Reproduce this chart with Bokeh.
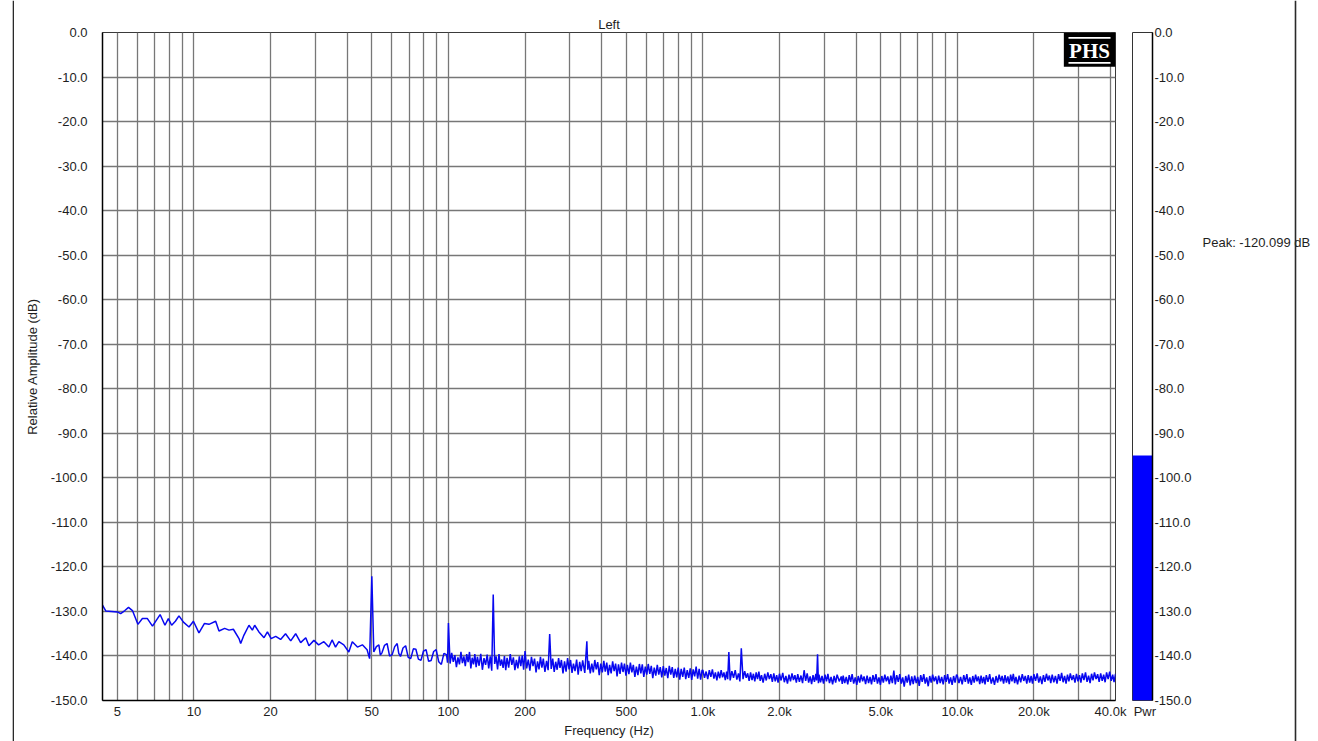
from bokeh.plotting import figure
from bokeh.layouts import row
from bokeh.models import FixedTicker, Range1d, Label, BoxAnnotation
from bokeh.embed import file_html
from bokeh.resources import INLINE

# ---------------- data ----------------
TITLE = "Left"
X_LABEL = "Frequency (Hz)"
Y_LABEL = "Relative Amplitude (dB)"
X_RANGE = (4.37, 41850.0)
Y_RANGE = (-150.0, 0.0)

# 4.4 Hz - 100 Hz
FREQ_A = [4.37, 4.50, 4.75, 5.00, 5.15, 5.35, 5.53, 5.73, 6.02, 6.27,
          6.56, 6.87, 7.36, 7.69, 7.93, 8.17, 8.45, 8.73, 9.09, 9.56,
          9.95, 10.46, 11.0, 11.45, 12.17, 12.54, 13.2, 13.73, 14.28, 15.03,
          15.26, 15.72, 16.45, 16.96, 17.32, 18.0, 18.85, 19.44, 20.1, 20.95,
          21.9, 22.9, 24.0, 25.1, 26.26, 27.5, 28.3, 29.6, 30.9, 32.4,
          33.9, 34.9, 36.0, 37.1, 38.8, 40.6, 41.9, 43.9, 45.9, 47.9,
          49.0, 50.0, 50.9, 52.1, 53.3, 54.0, 54.8, 56.1, 57.4, 58.7,
          60.1, 61.5, 62.9, 63.8, 64.8, 66.3, 67.9, 69.5, 71.1, 72.8,
          74.5, 76.2, 78.0, 79.8, 81.7, 83.6, 85.5, 87.5, 89.5, 91.6,
          93.8, 96.0, 98.3, 99.2]
DB_A = [-128.6, -129.9, -130.0, -130.1, -130.5, -129.8, -129.1, -129.8, -132.9, -131.6,
        -131.6, -133.3, -130.7, -133.1, -131.6, -133.1, -132.2, -131.0, -132.4, -133.5,
        -132.2, -134.8, -132.7, -132.9, -132.2, -134.4, -133.8, -134.2, -134.0, -136.1,
        -137.2, -135.3, -133.1, -134.2, -133.1, -134.6, -135.9, -134.6, -136.1, -135.6,
        -136.3, -135.0, -136.6, -135.0, -137.0, -135.9, -137.7, -136.5, -137.5, -136.8,
        -138.0, -136.4, -138.0, -136.8, -137.5, -139.1, -136.8, -138.0, -137.5, -138.6,
        -140.6, -122.1, -139.1, -137.9, -137.5, -139.8, -139.3, -137.6, -137.2, -140.0,
        -139.7, -137.9, -137.2, -139.4, -140.1, -138.2, -137.7, -140.3, -140.6, -138.4,
        -138.5, -140.7, -141.0, -138.9, -138.6, -141.2, -141.0, -139.0, -138.6, -141.3,
        -141.9, -139.4, -139.7, -141.5]

# 100 Hz - 1 kHz
FREQ_B = [100, 101.5, 103, 104.5, 106, 107.5, 109, 110.5, 112, 113.5,
          115, 116.5, 118, 119.5, 121, 122.5, 124, 125.5, 127, 128.5,
          130, 132, 134, 136, 138, 140, 142, 144, 146, 148,
          150, 152, 154, 156, 158, 160, 162, 164, 166, 168,
          170, 172.5, 175, 177.5, 180, 182.5, 185, 187.5, 190, 192.5,
          195, 197.5, 200, 203, 206, 209, 212, 215, 218, 221,
          224, 227, 230, 233, 236, 239.5, 243, 246.5, 250, 253.5,
          257, 260.5, 264, 267.5, 271, 274.5, 278, 282, 286, 290,
          294, 298, 302, 306, 310, 314.5, 319, 323.5, 328, 332.5,
          337, 343.5, 350, 353, 356, 361, 366, 371, 376, 381,
          386, 391.5, 397, 402.5, 408, 413.5, 419, 424.5, 430, 436,
          442, 448, 454, 460, 466, 472.5, 479, 485.5, 492, 498.5,
          505, 512, 519, 526, 533, 540.5, 548, 555.5, 563, 570.5,
          578, 586, 594, 602, 610, 618.5, 627, 635.5, 644, 653,
          662, 671, 680, 689.5, 699, 708.5, 718, 728, 738, 748,
          758, 768.5, 779, 789.5, 800, 811, 822, 833.5, 845, 856.5,
          868, 880, 892, 904, 916, 928.5, 941, 954, 967, 980,
          993]
DB_B = [-132.6, -141.7, -139.3, -141.3, -139.8, -142.5, -140.3, -141.9, -139.1, -141.6,
        -140.1, -142.3, -139.6, -141.4, -139.1, -142.8, -140.4, -141.9, -139.6, -142.5,
        -140.2, -142.2, -139.5, -143.1, -140.5, -142.0, -139.7, -142.8, -140.1, -143.3,
        -126.2, -141.8, -140.1, -143.0, -139.6, -142.2, -140.8, -142.7, -140.0, -143.2,
        -140.4, -142.6, -139.6, -142.0, -140.3, -143.2, -140.9, -142.8, -140.1, -142.3,
        -139.9, -143.1, -138.9, -142.8, -140.8, -143.3, -140.2, -142.3, -140.6, -143.7,
        -141.2, -143.0, -140.2, -142.6, -140.6, -143.6, -141.1, -143.2, -135.1, -142.9,
        -140.6, -143.6, -141.3, -143.1, -140.5, -142.7, -140.9, -143.9, -141.2, -143.5,
        -140.5, -143.0, -140.9, -143.8, -141.7, -143.4, -140.8, -144.2, -141.3, -143.4,
        -141.0, -143.8, -136.7, -143.1, -141.1, -143.9, -141.7, -143.7, -140.9, -143.0,
        -141.4, -144.3, -141.7, -143.7, -141.1, -143.5, -141.5, -144.3, -142.0, -143.9,
        -141.2, -143.4, -141.7, -144.6, -141.9, -144.0, -141.5, -143.6, -141.7, -144.4,
        -142.0, -144.1, -141.5, -143.7, -142.0, -144.7, -142.4, -144.3, -141.8, -143.9,
        -141.9, -144.7, -142.4, -144.2, -141.8, -144.0, -142.2, -145.0, -142.6, -144.4,
        -142.0, -144.2, -142.5, -144.8, -142.3, -144.4, -142.7, -145.0, -142.2, -144.2,
        -142.5, -144.9, -142.9, -144.8, -142.6, -145.3, -142.9, -144.7, -142.6, -145.2,
        -143.2, -144.9, -142.8, -145.4, -143.0, -144.6, -142.4, -145.1, -142.9, -145.3,
        -143.2]

# 1 kHz - 10 kHz
FREQ_C = [1000, 1015, 1030, 1045, 1060, 1075, 1090, 1105, 1120, 1135,
          1150, 1165, 1180, 1195, 1210, 1225, 1240, 1252, 1265, 1280,
          1300, 1320, 1340, 1360, 1380, 1398, 1416, 1438, 1460, 1480,
          1500, 1520, 1540, 1560, 1580, 1600, 1620, 1640, 1660, 1680,
          1700, 1725, 1750, 1775, 1800, 1825, 1850, 1875, 1900, 1925,
          1950, 1975, 2000, 2030, 2060, 2090, 2120, 2150, 2180, 2210,
          2240, 2270, 2300, 2330, 2360, 2395, 2430, 2465, 2500, 2535,
          2570, 2605, 2640, 2675, 2710, 2745, 2780, 2800, 2823, 2845,
          2860, 2900, 2940, 2980, 3020, 3060, 3100, 3145, 3190, 3235,
          3280, 3325, 3370, 3435, 3500, 3530, 3560, 3610, 3660, 3710,
          3760, 3810, 3860, 3915, 3970, 4025, 4080, 4135, 4190, 4245,
          4300, 4360, 4420, 4480, 4540, 4600, 4660, 4725, 4790, 4855,
          4920, 4985, 5050, 5120, 5190, 5260, 5330, 5405, 5480, 5555,
          5630, 5705, 5780, 5860, 5940, 6020, 6100, 6185, 6270, 6355,
          6440, 6530, 6620, 6710, 6800, 6895, 6990, 7085, 7180, 7280,
          7380, 7480, 7580, 7685, 7790, 7895, 8000, 8110, 8220, 8335,
          8450, 8565, 8680, 8800, 8920, 9040, 9160, 9285, 9410, 9540,
          9670, 9800, 9930]
DB_C = [-143.2, -144.9, -143.5, -145.2, -143.2, -144.7, -143.0, -145.1, -143.7, -145.5,
        -143.5, -145.0, -143.2, -144.8, -143.7, -145.4, -143.5, -145.2, -139.1, -145.5,
        -143.4, -144.9, -143.2, -145.3, -143.9, -145.7, -138.3, -145.2, -143.4, -144.9,
        -143.9, -145.6, -143.7, -145.4, -144.0, -145.7, -143.7, -145.2, -143.5, -145.6,
        -144.3, -146.0, -144.0, -145.5, -143.7, -145.2, -144.1, -145.8, -143.9, -145.7,
        -144.3, -146.0, -144.0, -145.5, -143.8, -145.9, -144.5, -146.2, -144.2, -145.7,
        -143.9, -145.4, -144.3, -146.0, -144.1, -145.8, -144.4, -146.1, -143.2, -145.6,
        -143.9, -146.0, -144.6, -146.3, -144.3, -145.8, -144.0, -145.5, -139.6, -146.1,
        -144.2, -145.9, -144.5, -146.2, -144.2, -145.7, -144.0, -146.1, -144.7, -146.4,
        -144.5, -146.0, -144.2, -145.7, -144.6, -146.3, -144.4, -146.1, -144.7, -146.4,
        -144.3, -145.8, -144.1, -146.2, -144.8, -146.5, -144.5, -146.0, -144.2, -145.7,
        -144.6, -146.3, -144.4, -146.1, -144.7, -146.4, -144.3, -145.8, -144.1, -146.2,
        -144.8, -146.5, -144.5, -146.0, -144.2, -145.7, -144.6, -146.3, -144.4, -146.1,
        -143.3, -146.4, -144.3, -145.8, -144.1, -146.2, -144.8, -146.9, -144.5, -146.0,
        -144.2, -146.6, -144.6, -146.3, -144.4, -146.1, -144.7, -146.7, -144.3, -145.8,
        -144.1, -146.2, -144.8, -146.8, -144.5, -146.0, -144.2, -145.7, -144.6, -146.3,
        -144.4, -146.1, -144.7, -146.4, -144.3, -145.8, -144.1, -146.2, -144.8, -146.5,
        -144.5, -146.0, -144.2]

# 10 kHz - 42 kHz
FREQ_D = [10000, 10150, 10300, 10450, 10600, 10750, 10900, 11050, 11200, 11350,
          11500, 11650, 11800, 11950, 12100, 12250, 12400, 12550, 12700, 12850,
          13000, 13200, 13400, 13600, 13800, 14000, 14200, 14400, 14600, 14800,
          15000, 15200, 15400, 15600, 15800, 16000, 16200, 16400, 16600, 16800,
          17000, 17250, 17500, 17750, 18000, 18250, 18500, 18750, 19000, 19250,
          19500, 19750, 20000, 20300, 20600, 20900, 21200, 21500, 21800, 22100,
          22400, 22700, 23000, 23300, 23600, 23950, 24300, 24650, 25000, 25350,
          25700, 26050, 26400, 26750, 27100, 27450, 27800, 28200, 28600, 29000,
          29400, 29800, 30200, 30600, 31000, 31450, 31900, 32350, 32800, 33250,
          33700, 34150, 34600, 35100, 35600, 36100, 36600, 37100, 37600, 38100,
          38600, 39150, 39700, 40250, 40800, 41300, 41850]
DB_D = [-144.4, -146.1, -144.7, -146.4, -144.3, -145.8, -144.1, -146.2, -144.8, -146.5,
        -144.5, -146.0, -144.2, -145.7, -144.6, -146.3, -144.4, -146.1, -144.7, -146.4,
        -144.3, -145.8, -144.1, -146.2, -144.8, -146.5, -144.5, -146.0, -144.2, -145.7,
        -144.5, -146.2, -144.3, -146.0, -144.6, -146.3, -144.2, -145.7, -144.0, -146.1,
        -144.7, -146.4, -144.4, -145.9, -144.1, -145.6, -144.5, -146.2, -144.3, -146.0,
        -144.5, -146.2, -144.1, -145.6, -143.9, -146.0, -144.6, -146.3, -144.3, -145.8,
        -144.0, -145.5, -144.4, -146.1, -144.2, -145.9, -144.5, -146.2, -144.1, -145.6,
        -143.8, -145.9, -144.5, -146.2, -144.2, -145.7, -143.9, -145.4, -144.3, -146.0,
        -144.0, -145.7, -144.3, -146.0, -143.9, -145.4, -143.7, -145.8, -144.4, -146.1,
        -144.0, -145.5, -143.7, -145.2, -144.1, -145.8, -143.9, -145.6, -144.2, -145.9,
        -143.7, -145.2, -143.5, -145.6, -144.2, -145.9, -144.0]

X_TICKS = [5, 10, 20, 50, 100, 200, 500, 1000, 2000, 5000, 10000, 20000, 40000]
X_TICK_LABELS = ["5", "10", "20", "50", "100", "200", "500",
                 "1.0k", "2.0k", "5.0k", "10.0k", "20.0k", "40.0k"]
Y_TICKS = [0, -10, -20, -30, -40, -50, -60, -70, -80, -90,
           -100, -110, -120, -130, -140, -150]
Y_TICK_LABELS = ["0.0", "-10.0", "-20.0", "-30.0", "-40.0", "-50.0", "-60.0", "-70.0",
                 "-80.0", "-90.0", "-100.0", "-110.0", "-120.0", "-130.0", "-140.0", "-150.0"]

METER_LABEL = "Pwr"
METER_LEVEL_DB = -95.0
PEAK_TEXT = "Peak: -120.099 dB"
LOGO_TEXT = "PHS"

# ---------------------------------------------------------------
assert len(FREQ_A) == len(DB_A) and len(FREQ_B) == len(DB_B)
assert len(FREQ_C) == len(DB_C) and len(FREQ_D) == len(DB_D)
freq = FREQ_A + FREQ_B + FREQ_C + FREQ_D
level = DB_A + DB_B + DB_C + DB_D

FONT = "Liberation Sans"
TXT = "#1e1e1e"
GRID = "#777777"
BLUE = "#0808f0"
FRAME_LINE = "#2a2a2a"

grid_x = [m * 10 ** e for e in range(0, 5) for m in range(1, 10)
          if X_RANGE[0] <= m * 10 ** e <= X_RANGE[1]]

H = 741


def blank(width, height):
    f = figure(width=width, height=height, x_range=Range1d(0, width),
               y_range=Range1d(0, height), x_axis_location=None,
               y_axis_location=None, output_backend="svg",
               toolbar_location=None, min_border=0)
    f.frame_align = False
    f.grid.visible = False
    f.outline_line_color = None
    f.background_fill_color = "white"
    f.border_fill_color = "white"
    return f


# left strip holding the outer frame line
p0 = blank(14, H)
p0.add_layout(BoxAnnotation(left=12.2, right=13.8, top=H, bottom=0,
                            fill_color=FRAME_LINE, fill_alpha=1, line_color=None))

# ---------------- main spectrum ----------------
p = figure(width=1118, height=H, x_axis_type="log",
           x_range=Range1d(*X_RANGE), y_range=Range1d(*Y_RANGE),
           output_backend="svg", toolbar_location=None, title=TITLE,
           min_border_left=88, min_border_right=17, min_border_top=32,
           min_border_bottom=41)
p.background_fill_color = "white"
p.border_fill_color = "white"
p.outline_line_color = "#3a3a3a"
p.outline_line_width = 1

p.title.align = "center"
p.title.text_font = FONT
p.title.text_font_size = "13px"
p.title.text_font_style = "normal"
p.title.text_color = TXT
p.title.standoff = 2

p.xgrid.ticker = FixedTicker(ticks=grid_x)
p.ygrid.ticker = FixedTicker(ticks=Y_TICKS)
for g in (p.xgrid, p.ygrid):
    g.grid_line_color = GRID
    g.grid_line_width = 1.3

xa = p.xaxis[0]
xa.ticker = FixedTicker(ticks=X_TICKS)
xa.major_label_overrides = dict(zip(X_TICKS, X_TICK_LABELS))
ya = p.yaxis[0]
ya.ticker = FixedTicker(ticks=Y_TICKS)
ya.major_label_overrides = dict(zip(Y_TICKS, Y_TICK_LABELS))
xa.axis_label = X_LABEL
ya.axis_label = Y_LABEL
for a in (xa, ya):
    a.major_tick_in = 0
    a.major_tick_out = 0
    a.minor_tick_in = 0
    a.minor_tick_out = 0
    a.axis_line_color = "black"
    a.axis_line_width = 1.5
    a.major_label_text_font = FONT
    a.major_label_text_font_size = "13px"
    a.major_label_text_color = TXT
    a.axis_label_text_font = FONT
    a.axis_label_text_font_size = "13px"
    a.axis_label_text_font_style = "normal"
    a.axis_label_text_color = TXT
xa.major_label_standoff = 3
xa.axis_label_standoff = 1
ya.major_label_standoff = 15
ya.axis_label_standoff = 8

p.line(freq, level, line_color=BLUE, line_width=1.5)

# PHS logo (top right corner of the frame)
XM = X_RANGE[1]
p.add_layout(BoxAnnotation(left=XM / 1.596, right=XM, top=0, bottom=-7.7,
                           fill_color="black", fill_alpha=1, line_color=None))
for top, bottom in ((-1.0, -1.4), (-6.6, -7.0)):
    p.add_layout(BoxAnnotation(left=XM / 1.53, right=XM / 1.046, top=top, bottom=bottom,
                               fill_color="white", fill_alpha=1, line_color=None))
p.add_layout(Label(x=XM / 1.265, y=-4.1, text=LOGO_TEXT, text_align="center",
                   text_baseline="middle", text_color="white",
                   text_font="Liberation Serif", text_font_style="bold",
                   text_font_size="21px"))

# ---------------- power meter ----------------
m = figure(width=63, height=H, x_range=Range1d(-0.5, 0.5),
           y_range=Range1d(*Y_RANGE), y_axis_location="right",
           output_backend="svg", toolbar_location=None,
           min_border_left=0, min_border_right=43, min_border_top=32,
           min_border_bottom=41)
m.background_fill_color = "white"
m.border_fill_color = "white"
m.outline_line_color = "#333333"
m.xgrid.visible = False
m.ygrid.visible = False
m.vbar(x=[0], top=[METER_LEVEL_DB], bottom=Y_RANGE[0], width=1.0,
       fill_color="#0000ff", line_color=None)

my = m.yaxis[0]
my.ticker = FixedTicker(ticks=Y_TICKS)
my.major_label_overrides = dict(zip(Y_TICKS, Y_TICK_LABELS))
mx = m.xaxis[0]
mx.ticker = FixedTicker(ticks=[0])
mx.major_label_overrides = {0: METER_LABEL}
mx.axis_line_color = None
my.axis_line_color = "black"
my.axis_line_width = 1.5
for a in (mx, my):
    a.major_tick_in = 0
    a.major_tick_out = 0
    a.minor_tick_in = 0
    a.minor_tick_out = 0
    a.major_label_text_font = FONT
    a.major_label_text_font_size = "13px"
    a.major_label_text_color = TXT
my.major_label_standoff = 2
mx.major_label_standoff = 3

# ---------------- right strip: peak readout + outer frame line ----------------
p3 = blank(123, H)
p3.add_layout(Label(x=7, y=H - 242, text=PEAK_TEXT, text_align="left",
                    text_baseline="middle", text_font=FONT, text_font_size="13px",
                    text_color=TXT))
p3.add_layout(BoxAnnotation(left=99.2, right=100.8, top=H, bottom=0,
                            fill_color=FRAME_LINE, fill_alpha=1, line_color=None))

layout = row(p0, p, m, p3)
open("out.html", "w").write(file_html(layout, INLINE))
